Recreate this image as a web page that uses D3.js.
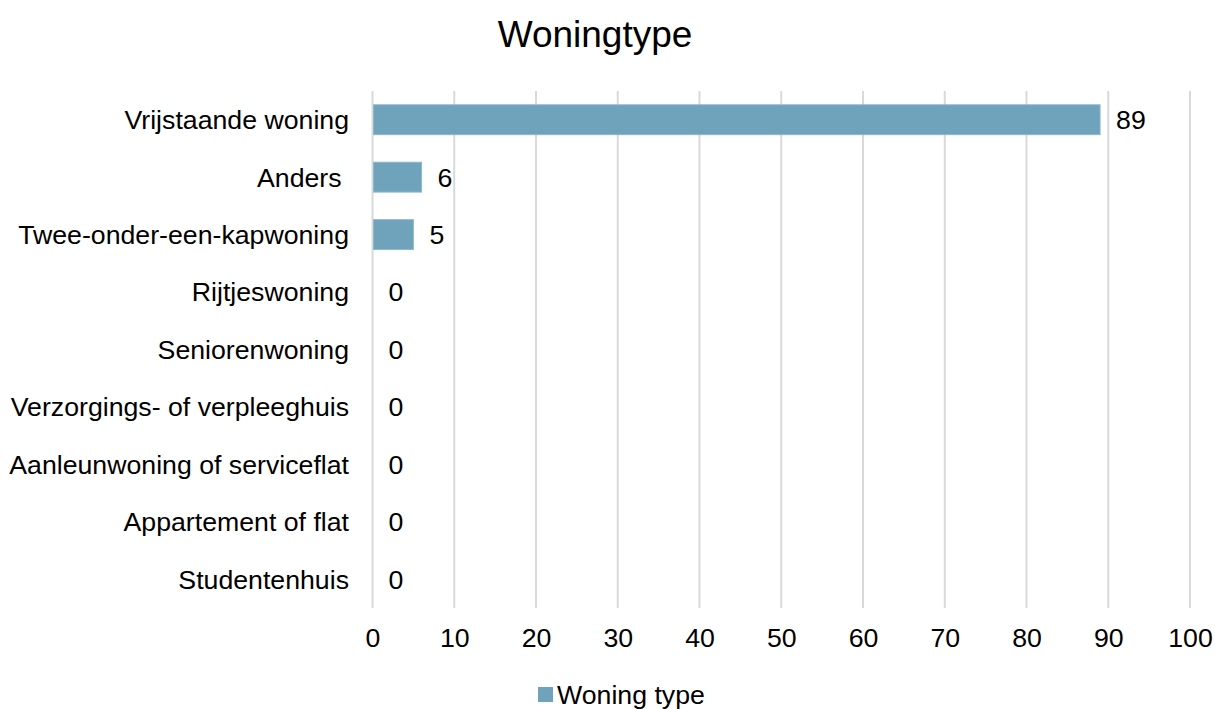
<!DOCTYPE html>
<html><head><meta charset="utf-8">
<script src="https://cdn.jsdelivr.net/npm/d3@7"></script>
<style>body{margin:0;background:#fff;} svg{display:block;font-family:"Liberation Sans",Arial,sans-serif;}</style>
</head><body>
<svg id="c" width="1215" height="709"></svg>
<script>
const categories = ["Vrijstaande woning","Anders ","Twee-onder-een-kapwoning","Rijtjeswoning","Seniorenwoning","Verzorgings- of verpleeghuis","Aanleunwoning of serviceflat","Appartement of flat","Studentenhuis"];
const values = [89,6,5,0,0,0,0,0,0];
const ticks = [0,10,20,30,40,50,60,70,80,90,100];
const seriesName = "Woning type";
const title = "Woningtype";

const svg = d3.select("#c");
const m = {left:372.5, right:1190, top:91, bottom:608};
const x = d3.scaleLinear().domain([0,100]).range([m.left,m.right]);
const y = d3.scaleBand().domain(categories).range([m.top,m.bottom]).paddingInner(0.48).paddingOuter(0.24);
const color = "#6fa3bc";
const fs = 26.7;

svg.append("text").attr("x",595).attr("y",47).attr("text-anchor","middle")
  .attr("font-size",37).attr("fill","#000").text(title);

// gridlines
svg.append("g").selectAll("line").data(ticks).join("line")
  .attr("x1",d=>x(d)).attr("x2",d=>x(d)).attr("y1",m.top).attr("y2",m.bottom)
  .attr("stroke","#d9d9d9").attr("stroke-width",2);

// bars
svg.append("g").selectAll("rect").data(values).join("rect")
  .attr("x",x(0)+1).attr("y",(d,i)=>y(categories[i]))
  .attr("width",d=>Math.max(0,x(d)-x(0)-1)).attr("height",y.bandwidth())
  .attr("fill",color).attr("stroke","#8db7ca").attr("stroke-width",d=>d>0?1:0);

// value labels
svg.append("g").selectAll("text").data(values).join("text")
  .attr("x",d=>x(d)+16).attr("y",(d,i)=>y(categories[i])+y.bandwidth()/2)
  .attr("dy","0.35em").attr("font-size",fs).attr("fill","#000").text(d=>d);

// category labels
svg.append("g").selectAll("text").data(categories).join("text")
  .attr("x",349).attr("y",d=>y(d)+y.bandwidth()/2).attr("dy","0.35em")
  .attr("text-anchor","end").attr("font-size",fs).attr("fill","#000")
  .attr("xml:space","preserve").style("white-space","pre").text(d=>d);

// x axis
const ax = svg.append("g").attr("transform",`translate(0,${m.bottom})`)
  .call(d3.axisBottom(x).tickValues(ticks).tickSize(0).tickPadding(20).tickFormat(d3.format("d")));
ax.select(".domain").remove();
ax.selectAll("text").attr("font-size",fs).attr("fill","#000").attr("font-family","Liberation Sans,Arial,sans-serif");

// legend
const lg = svg.append("g");
lg.append("rect").attr("x",538).attr("y",687).attr("width",15).attr("height",15).attr("fill",color);
lg.append("text").attr("x",557).attr("y",695).attr("dy","0.35em").attr("font-size",fs).attr("fill","#000").text(seriesName);
</script>
</body></html>
